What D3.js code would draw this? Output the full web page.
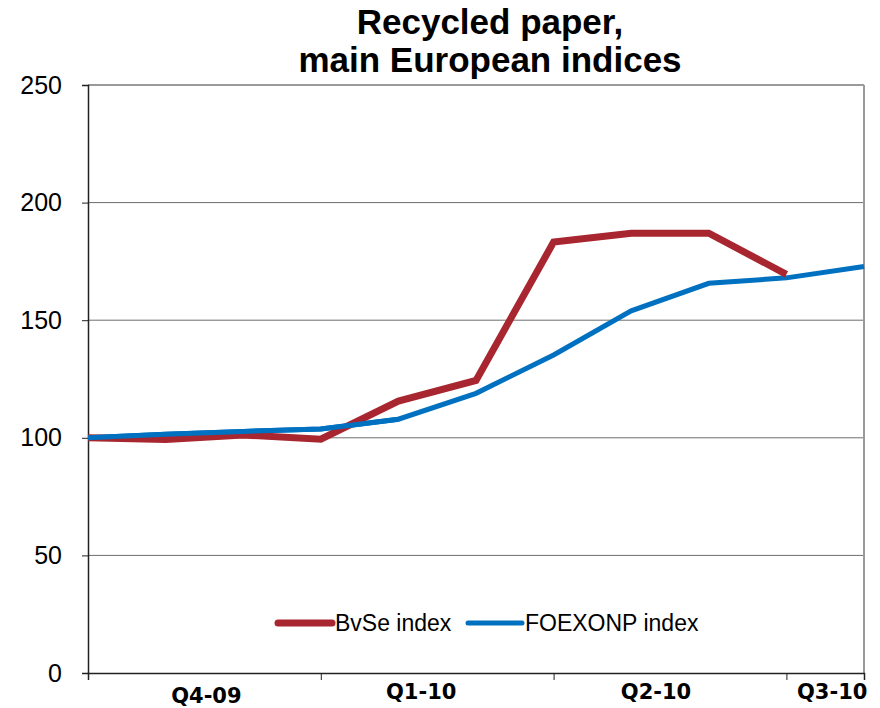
<html>
<head>
  <script src="https://d3js.org/d3.v7.min.js"></script>
  <style>
    body { margin: 0; background: #fff; }
    text { font-family: "Liberation Sans", Arial, sans-serif; }
  </style>
</head>
<body>
  <svg id="chart"></svg>

  <script>
    const months = [0, 1, 2, 3, 4, 5, 6, 7, 8, 9, 10];
    const bvse = [100, 99.3, 101.2, 99.4, 115.6, 124.4, 183.2, 187, 187, 169.5];
    const foexonp = [100, 101.5, 102.7, 103.7, 107.9, 118.9, 135.2, 154, 165.7, 168, 172.8];
    const quarters = ['Q4-09', 'Q1-10', 'Q2-10', 'Q3-10'];
    const quarterStarts = [0, 3, 6, 9];
    const yTicks = [0, 50, 100, 150, 200, 250];

    const width = 880, height = 708;
    const margin = {top: 85, right: 16, bottom: 35, left: 88};

    const svg = d3.select('#chart')
      .attr('width', width)
      .attr('height', height);

    const x = d3.scaleLinear().domain([0, 10]).range([margin.left, width - margin.right]);
    const y = d3.scaleLinear().domain([0, 250]).range([height - margin.bottom, margin.top]);

    // gridlines
    svg.append('g')
      .selectAll('line')
      .data(yTicks.filter(d => d > 0))
      .enter().append('line')
      .attr('x1', x(0)).attr('x2', x(10))
      .attr('y1', d => y(d)).attr('y2', d => y(d))
      .attr('stroke', d => d === 250 ? '#9a9a9a' : '#6e6e6e')
      .attr('stroke-width', d => d === 250 ? 2 : 1);

    // right border
    svg.append('line')
      .attr('x1', x(10)).attr('x2', x(10))
      .attr('y1', y(250)).attr('y2', y(0))
      .attr('stroke', '#9a9a9a').attr('stroke-width', 2);

    // y axis
    const yAxis = svg.append('g')
      .attr('transform', `translate(${margin.left},0)`)
      .call(d3.axisLeft(y).tickValues(yTicks).tickSize(6).tickPadding(20));
    yAxis.select('.domain').attr('stroke', '#222').attr('stroke-width', 1.5);
    yAxis.selectAll('.tick line').attr('stroke', '#222');
    yAxis.selectAll('text')
      .attr('font-size', 25)
      .attr('fill', '#000')
      .style('font-family', '"Liberation Sans", Arial, sans-serif');

    // x axis
    const xAxis = svg.append('g')
      .attr('transform', `translate(0,${y(0)})`)
      .call(d3.axisBottom(x).tickValues(quarterStarts).tickSize(7).tickFormat(''));
    xAxis.select('.domain').attr('stroke', '#222').attr('stroke-width', 1.5);
    xAxis.selectAll('.tick line').attr('stroke', '#222');

    // quarter labels sit roughly mid-band, nudged like the original
    const nudge = [{dx: 2, dy: 4}, {dx: -16, dy: 0}, {dx: -14, dy: 0}, {dx: 7, dy: 0}];
    svg.append('g')
      .selectAll('text')
      .data(quarters)
      .enter().append('text')
      .attr('x', (d, i) => (x(quarterStarts[i]) + x(Math.min(quarterStarts[i] + 3, 10))) / 2 + nudge[i].dx)
      .attr('y', (d, i) => 699 + nudge[i].dy)
      .attr('text-anchor', 'middle')
      .attr('font-size', 21)
      .attr('font-weight', 'bold')
      .style('font-family', '"DejaVu Sans", Verdana, sans-serif')
      .text(d => d);

    const line = d3.line()
      .x((d, i) => x(months[i]))
      .y(d => y(d));

    svg.append('path')
      .datum(foexonp)
      .attr('d', line)
      .attr('fill', 'none')
      .attr('stroke', '#0070c0')
      .attr('stroke-width', 5);

    svg.append('path')
      .datum(bvse)
      .attr('d', line)
      .attr('fill', 'none')
      .attr('stroke', '#a8262f')
      .attr('stroke-width', 7);

    // blue on top for the flat early part
    svg.append('path')
      .datum(foexonp.slice(0, 5))
      .attr('d', line)
      .attr('fill', 'none')
      .attr('stroke', '#0070c0')
      .attr('stroke-width', 5);

    // title
    const title = svg.append('text')
      .attr('text-anchor', 'middle')
      .attr('font-size', 35)
      .attr('font-weight', 'bold');
    title.append('tspan').attr('x', 490).attr('y', 34).text('Recycled paper,');
    title.append('tspan').attr('x', 490).attr('y', 72).text('main European indices');

    // legend
    const legend = [
      {name: 'BvSe index', color: '#a8262f', w: 7, x: 278},
      {name: 'FOEXONP index', color: '#0070c0', w: 5, x: 468}
    ];
    const lg = svg.append('g').selectAll('g').data(legend).enter().append('g');
    lg.append('line')
      .attr('x1', d => d.x).attr('x2', d => d.x + 54)
      .attr('y1', 623).attr('y2', 623)
      .attr('stroke', d => d.color)
      .attr('stroke-width', d => d.w)
      .attr('stroke-linecap', 'round');
    lg.append('text')
      .attr('x', d => d.x + 57)
      .attr('y', 631)
      .attr('font-size', 23)
      .text(d => d.name);
  </script>
</body>
</html>
